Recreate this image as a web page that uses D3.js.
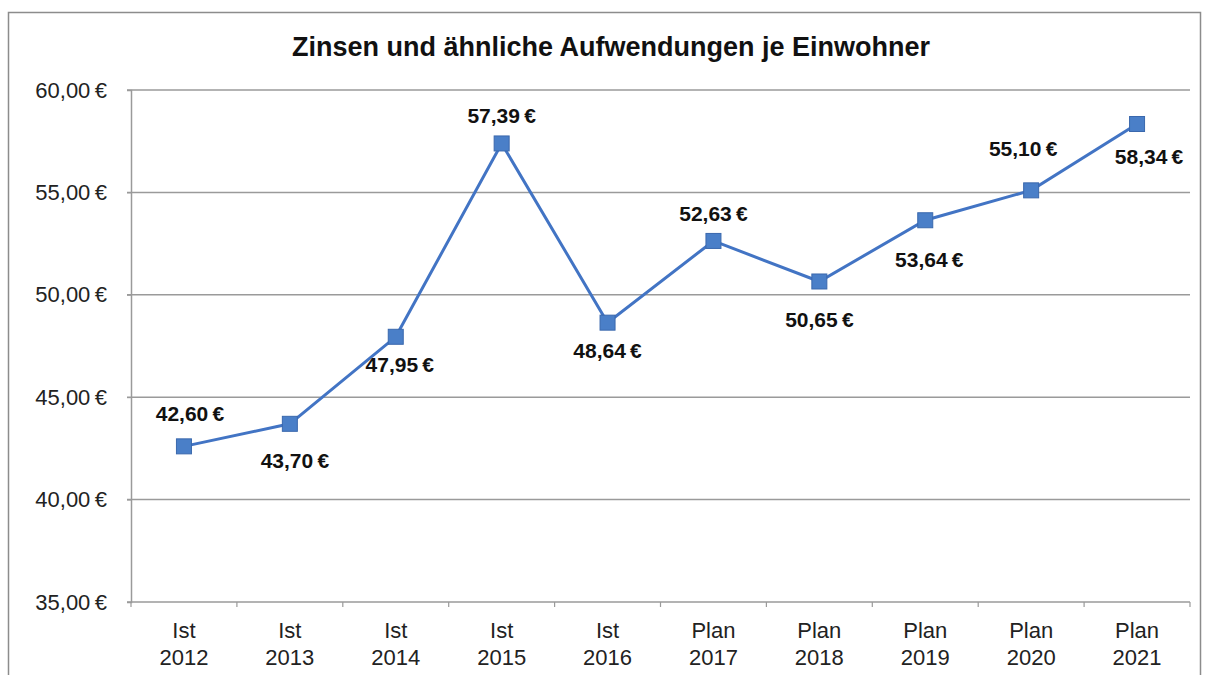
<!DOCTYPE html>
<html lang="de">
<head>
    <meta charset="UTF-8">
    <title>Zinsen je Einwohner</title>
    <script src="https://cdn.jsdelivr.net/npm/d3@7"></script>
    <style>
        body { margin: 0; background: #fff; }
        text { font-family: "Liberation Sans", Arial, sans-serif; }
    </style>
</head>
<body>
<script>
    // Werte
    const kinds = ['Ist', 'Ist', 'Ist', 'Ist', 'Ist', 'Plan', 'Plan', 'Plan', 'Plan', 'Plan']
    const years = ['2012', '2013', '2014', '2015', '2016', '2017', '2018', '2019', '2020', '2021']
    const values = [42.60, 43.70, 47.95, 57.39, 48.64, 52.63, 50.65, 53.64, 55.10, 58.34]
    const yTicks = [35, 40, 45, 50, 55, 60]
    const title = 'Zinsen und ähnliche Aufwendungen je Einwohner'

    // Lage der Wertbeschriftung: [dx, dy] relativ zum Punkt
    const labelOffset = [[6, -33], [5, 37], [4, 28], [0, -28], [0, 28], [0, -27], [0, 38], [4, 39], [-8, -42], [12, 33]]

    const W = 1208, H = 675
    const m = {left: 131, right: 1190, top: 90, bottom: 602}

    const svg = d3.select('body').append('svg')
        .attr('width', W).attr('height', H)

    // Rahmen
    svg.append('path')
        .attr('d', `M8.5,${H} V12.5 H1200.5 V${H}`)
        .attr('fill', 'none')
        .attr('stroke', '#8c8c8c')
        .attr('stroke-width', 1.5)

    svg.append('text')
        .attr('x', 611).attr('y', 56)
        .attr('text-anchor', 'middle')
        .attr('font-size', 27).attr('font-weight', 'bold')
        .attr('fill', '#111')
        .text(title)

    const cats = years.map((y, i) => kinds[i] + ' ' + y)
    const x = d3.scaleBand().domain(cats).range([m.left, m.right])
    const y = d3.scaleLinear().domain([35, 60]).range([m.bottom, m.top])
    const fmt = v => d3.format('.2f')(v).replace('.', ',') + '\u2009€'

    // Gitterlinien
    svg.append('g').selectAll('line').data(yTicks).enter().append('line')
        .attr('x1', m.left - 4).attr('x2', m.right)
        .attr('y1', d => y(d)).attr('y2', d => y(d))
        .attr('stroke', '#9a9a9a').attr('stroke-width', 1.5)

    // y-Achse
    const yAxis = svg.append('g').attr('transform', `translate(${m.left},0)`)
        .call(d3.axisLeft(y).tickValues(yTicks).tickSize(4).tickPadding(20).tickFormat(fmt))
    yAxis.select('.domain').attr('stroke', '#9a9a9a').attr('stroke-width', 1.5)
    yAxis.selectAll('.tick line').attr('stroke', '#9a9a9a')
    yAxis.selectAll('text').attr('font-size', 22).attr('fill', '#222')
        .attr('font-family', '"Liberation Sans", Arial, sans-serif')

    // x-Achse: Striche an den Kategoriegrenzen
    const bounds = cats.map(c => x(c)).concat([m.right])
    svg.append('g').selectAll('line').data(bounds).enter().append('line')
        .attr('x1', d => d).attr('x2', d => d)
        .attr('y1', m.bottom).attr('y2', m.bottom + 5)
        .attr('stroke', '#9a9a9a').attr('stroke-width', 1.2)

    const xl = svg.append('g').selectAll('text').data(cats).enter().append('text')
        .attr('x', d => x(d) + x.bandwidth() / 2)
        .attr('text-anchor', 'middle')
        .attr('font-size', 22).attr('fill', '#222')
    xl.append('tspan').attr('x', d => x(d) + x.bandwidth() / 2).attr('y', 638)
        .text((d, i) => kinds[i])
    xl.append('tspan').attr('x', d => x(d) + x.bandwidth() / 2).attr('y', 665)
        .text((d, i) => years[i])

    // Linie
    const line = d3.line()
        .x((d, i) => x(cats[i]) + x.bandwidth() / 2)
        .y(d => y(d))
    svg.append('path').datum(values)
        .attr('d', line)
        .attr('fill', 'none')
        .attr('stroke', '#4274c4')
        .attr('stroke-width', 3)

    const s = 15
    svg.append('g').selectAll('rect').data(values).enter().append('rect')
        .attr('x', (d, i) => x(cats[i]) + x.bandwidth() / 2 - s / 2)
        .attr('y', d => y(d) - s / 2)
        .attr('width', s).attr('height', s)
        .attr('fill', '#4a7fc8')
        .attr('stroke', '#3a68ad').attr('stroke-width', 1)

    svg.append('g').selectAll('text').data(values).enter().append('text')
        .attr('x', (d, i) => x(cats[i]) + x.bandwidth() / 2 + labelOffset[i][0])
        .attr('y', (d, i) => y(d) + labelOffset[i][1])
        .attr('dy', '0.35em')
        .attr('text-anchor', 'middle')
        .attr('font-size', 21).attr('font-weight', 'bold')
        .attr('fill', '#111')
        .text(fmt)
</script>
</body>
</html>
